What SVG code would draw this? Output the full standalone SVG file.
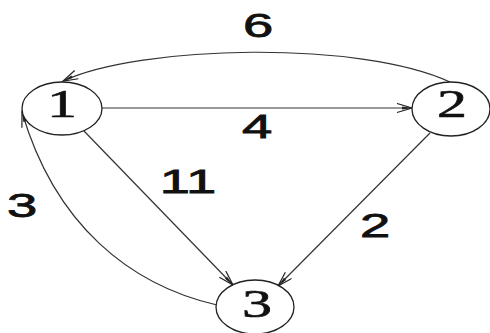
<svg xmlns="http://www.w3.org/2000/svg" width="490" height="333" viewBox="0 0 490 333">
<style>
.node{fill:#fff;stroke:#222;stroke-width:1.3}
.nl{font-family:"Liberation Serif",serif;font-size:40px;fill:#111;stroke:#111;stroke-width:0.6;text-anchor:middle}
.el{font-family:"Liberation Sans",sans-serif;font-size:34px;fill:#111;stroke:#111;stroke-width:0.8;text-anchor:middle}
.edge{fill:none;stroke:#333;stroke-width:1.2;marker-end:url(#arr)}
</style>
<defs>
<marker id="arr" markerUnits="userSpaceOnUse" markerWidth="18" markerHeight="12" refX="16" refY="5" orient="auto">
<path d="M1,0.5 L16,5 L1,9.5" fill="none" stroke="#222" stroke-width="1.2"/>
<path d="M6,3.5 L16,5 L6,6.5 Z" fill="#222"/>
</marker>
</defs>
<rect width="490" height="333" fill="#fff"/>
<g id="edges">
<path class="edge" d="M102,108 L412,108"/>
<path class="edge" d="M450,82 C360,40 140,45 63,81"/>
<path class="edge" d="M84,131 L233,285"/>
<path class="edge" d="M430,133 L278,286"/>
<path class="edge" d="M217,305 C130,285 55,225 22,112"/>
</g>
<g id="edge-labels">
<text class="el" transform="translate(258,37) scale(1.6,1)">6</text>
<text class="el" transform="translate(257,138) scale(1.6,1)">4</text>
<text class="el" transform="translate(188,193) scale(1.6,1)">11</text>
<text class="el" transform="translate(22,217) scale(1.6,1)">3</text>
<text class="el" transform="translate(375,237) scale(1.6,1)">2</text>
</g>
<g id="node1">
<ellipse class="node" cx="62" cy="108.5" rx="40" ry="26.5"/>
<text class="nl" transform="translate(62,117) scale(1.5,1)">1</text>
</g>
<g id="node2">
<ellipse class="node" cx="451" cy="109" rx="39" ry="27"/>
<text class="nl" transform="translate(452,117) scale(1.5,1)">2</text>
</g>
<g id="node3">
<ellipse class="node" cx="255" cy="307" rx="39" ry="27"/>
<text class="nl" transform="translate(257,317) scale(1.5,1)">3</text>
</g>
</svg>
